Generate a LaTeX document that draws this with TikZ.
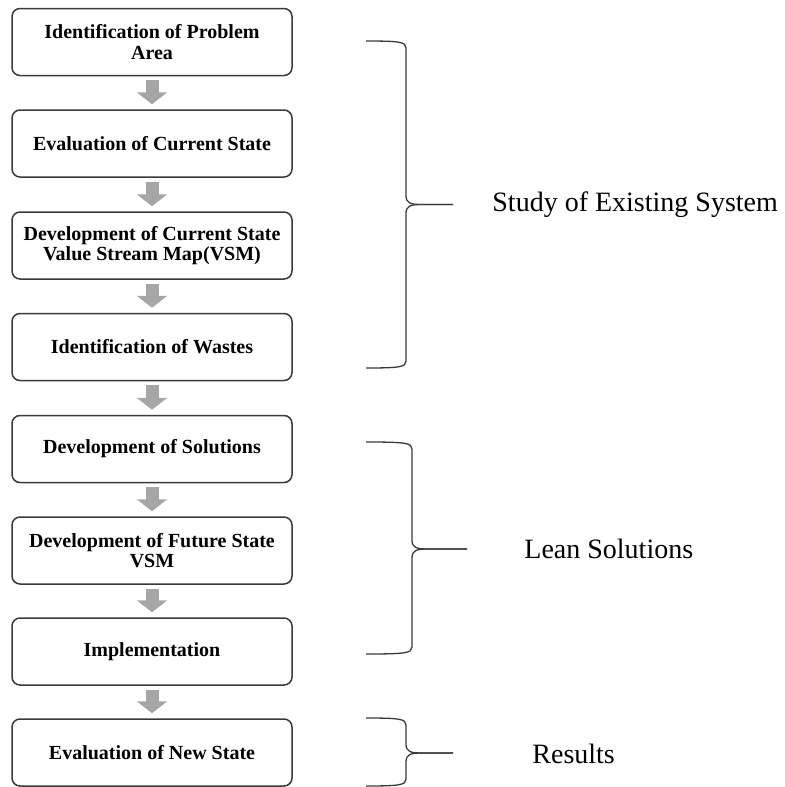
\documentclass[tikz,border=0pt]{standalone}
\usepackage{fontspec}
\setmainfont{Liberation Serif}
\usepackage{tikz}
\usetikzlibrary{arrows.meta}

\definecolor{boxline}{HTML}{3A3A3A}
\definecolor{arrowgray}{HTML}{A6A6A6}

% one curly brace: x of its back, x of its point, top y, middle y, bottom y
\newcommand{\groupbrace}[5]{%
\draw [bracestroke] (366,#3) .. controls (#1-6,#3) and (#1,#3+1) .. (#1,#3+7) -- (#1,#4-9)
  .. controls (#1,#4-1) and (#1+5,#4) .. (#1+16,#4) -- (#2,#4);
\draw [bracestroke] (#2,#4) -- (#1+16,#4) .. controls (#1+5,#4) and (#1,#4+1) .. (#1,#4+9)
  -- (#1,#5-7) .. controls (#1,#5-1) and (#1-6,#5) .. (366,#5);}

\begin{document}
\begin{tikzpicture}[x=0.5pt, y=-0.5pt,
  stepbox/.style={draw=boxline, line width=0.75pt, rounded corners=4pt, fill=white,
    minimum width=140pt, minimum height=33.5pt, inner sep=2pt, align=center,
    font=\fontsize{10}{10.2}\selectfont\bfseries},
  flowarrow/.style={draw=arrowgray, line width=6.5pt,
    -{Triangle[width=15pt,length=6pt]}, shorten <=2pt, shorten >=2.5pt},
  bracestroke/.style={draw=boxline, line width=0.65pt},
  grouplabel/.style={anchor=west, inner sep=0pt, font=\fontsize{14}{16}\selectfont}]
\useasboundingbox (0,0) rectangle (784,787);
%\draw (0,0) grid (2,2);

\node [stepbox] (problem) at (152,42) {Identification of Problem\\Area};
\node [stepbox] (current) at (152,143.5) {Evaluation of Current State};
\node [stepbox] (cvsm) at (152,245.5) {Development of Current State\\Value Stream Map(VSM)};
\node [stepbox] (wastes) at (152,347) {Identification of Wastes};
\node [stepbox] (solutions) at (152,449) {Development of Solutions};
\node [stepbox] (fvsm) at (152,550.5) {Development of Future State\\VSM};
\node [stepbox] (implement) at (152,651.5) {Implementation};
\node [stepbox] (newstate) at (152,752.5) {Evaluation of New State};

\draw [flowarrow] (problem) -- (current);
\draw [flowarrow] (current) -- (cvsm);
\draw [flowarrow] (cvsm) -- (wastes);
\draw [flowarrow] (wastes) -- (solutions);
\draw [flowarrow] (solutions) -- (fvsm);
\draw [flowarrow] (fvsm) -- (implement);
\draw [flowarrow] (implement) -- (newstate);

\groupbrace{406}{453}{41}{204.5}{368}
\node [grouplabel] (existing) at (492,205) {Study of Existing System};

\groupbrace{412}{467}{442}{549}{654}
\node [grouplabel] (lean) at (524,549) {Lean Solutions};

\groupbrace{406}{453}{718}{753}{786}
\node [grouplabel] (results) at (532,754) {Results};

\end{tikzpicture}
\end{document}
